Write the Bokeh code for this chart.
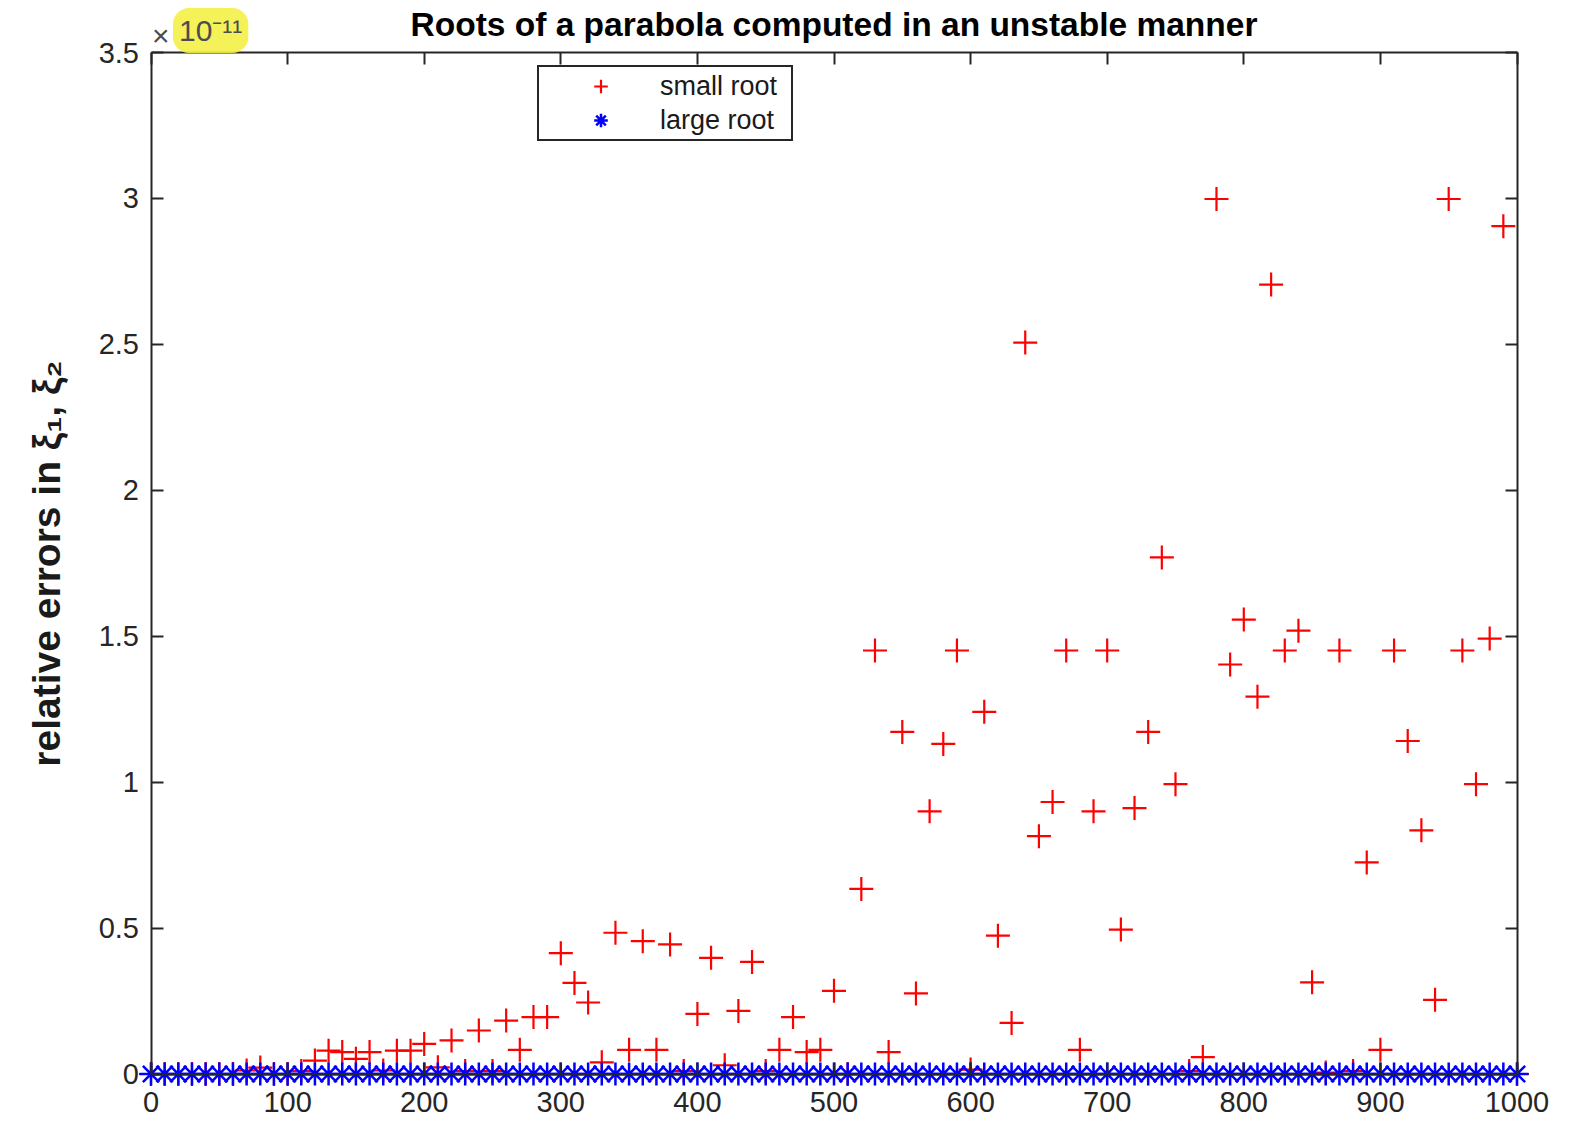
from bokeh.plotting import figure
from bokeh.models import (ColumnDataSource, FixedTicker, LinearAxis, Legend,
                          LegendItem, Label, Range1d)
from bokeh.embed import file_html
from bokeh.resources import INLINE

# ---------------- data (relative errors, in units of 1e-11) ----------------
n_values = list(range(0, 1001, 10))

small_root_err = [
    0.0, 0.0, 0.0, 0.0, 0.0, 0.0, 0.0, 0.012, 0.022, 0.0,          # 0-90
    0.0, 0.01, 0.046, 0.08, 0.075, 0.052, 0.075, 0.012, 0.08, 0.08,  # 100-190
    0.103, 0.023, 0.115, 0.01, 0.149, 0.01, 0.183, 0.083, 0.195, 0.195,  # 200-290
    0.414, 0.312, 0.245, 0.04, 0.484, 0.083, 0.455, 0.083, 0.444, 0.01,  # 300-390
    0.206, 0.398, 0.03, 0.216, 0.384, 0.01, 0.083, 0.195, 0.075, 0.083,  # 400-490
    0.285, 0.0, 0.634, 1.451, 0.075, 1.172, 0.276, 0.90, 1.131, 1.451,  # 500-590
    0.015, 1.241, 0.474, 0.175, 2.506, 0.815, 0.932, 1.451, 0.083, 0.90,  # 600-690
    1.451, 0.495, 0.911, 1.172, 1.770, 0.993, 0.01, 0.058, 2.998, 1.403,  # 700-790
    1.557, 1.293, 2.705, 1.451, 1.519, 0.314, 0.005, 1.451, 0.01, 0.725,  # 800-890
    0.083, 1.451, 1.141, 0.835, 0.254, 2.998, 1.451, 0.993, 1.492, 2.905,  # 900-990
    0.0,                                                              # 1000
]

large_root_err = [
    0.0, 0.0, 0.0, 0.0, 0.0, 0.0, 0.0, 0.0, 0.0, 0.0,
    0.0, 0.0, 0.0, 0.0, 0.0, 0.0, 0.0, 0.0, 0.0, 0.0,
    0.0, 0.0, 0.0, 0.0, 0.0, 0.0, 0.0, 0.0, 0.0, 0.0,
    0.0, 0.0, 0.0, 0.0, 0.0, 0.0, 0.0, 0.0, 0.0, 0.0,
    0.0, 0.0, 0.0, 0.0, 0.0, 0.0, 0.0, 0.0, 0.0, 0.0,
    0.0, 0.0, 0.0, 0.0, 0.0, 0.0, 0.0, 0.0, 0.0, 0.0,
    0.0, 0.0, 0.0, 0.0, 0.0, 0.0, 0.0, 0.0, 0.0, 0.0,
    0.0, 0.0, 0.0, 0.0, 0.0, 0.0, 0.0, 0.0, 0.0, 0.0,
    0.0, 0.0, 0.0, 0.0, 0.0, 0.0, 0.0, 0.0, 0.0, 0.0,
    0.0, 0.0, 0.0, 0.0, 0.0, 0.0, 0.0, 0.0, 0.0, 0.0,
    0.0,
]

x_ticks = [0, 100, 200, 300, 400, 500, 600, 700, 800, 900, 1000]
x_tick_labels = ["0", "100", "200", "300", "400", "500", "600", "700", "800", "900", "1000"]
y_ticks = [0, 0.5, 1, 1.5, 2, 2.5, 3, 3.5]
y_tick_labels = ["0", "0.5", "1", "1.5", "2", "2.5", "3", "3.5"]

title_text = "Roots of a parabola computed in an unstable manner"
y_label_text = "relative errors in ξ₁, ξ₂"
series_names = ["small root", "large root"]
exponent_text = "10⁻¹¹"

X_MIN, X_MAX = 0, 1000
Y_MIN, Y_MAX = 0, 3.5

# ---------------- geometry (the frame fills the whole canvas so that
# markers on the box edge, tick labels and texts are never clipped) ----------
CANVAS_W, CANVAS_H = 1568, 1119
BOX_LEFT, BOX_TOP = 150.5, 52.0      # px position of the axes box
BOX_W, BOX_H = 1366.0, 1021.5
xu = BOX_W / (X_MAX - X_MIN)
yu = BOX_H / (Y_MAX - Y_MIN)
x_start = X_MIN - BOX_LEFT / xu
x_end = x_start + CANVAS_W / xu
y_end = Y_MAX + BOX_TOP / yu
y_start = y_end - CANVAS_H / yu

AX = "#262626"
FONT = "Liberation Sans"

p = figure(frame_width=CANVAS_W, frame_height=CANVAS_H,
           x_range=Range1d(x_start, x_end), y_range=Range1d(y_start, y_end),
           output_backend="svg", toolbar_location=None,
           min_border_left=0, min_border_right=0,
           min_border_top=0, min_border_bottom=0,
           background_fill_color="white", border_fill_color="white")
p.grid.visible = False
p.outline_line_color = None
p.title.visible = False


def style_axis(ax):
    ax.major_tick_in = 12
    ax.major_tick_out = 0
    ax.minor_tick_in = 0
    ax.minor_tick_out = 0
    ax.axis_line_color = AX
    ax.axis_line_width = 2
    ax.major_tick_line_color = AX
    ax.major_tick_line_width = 2
    ax.major_label_text_font = FONT
    ax.major_label_text_color = AX


def hide_labels(ax):
    ax.major_label_text_alpha = 0
    ax.major_label_text_font_size = "1px"
    ax.major_label_standoff = 0


xa = p.xaxis[0]
style_axis(xa)
xa.fixed_location = Y_MIN
xa.bounds = (X_MIN, X_MAX)
xa.ticker = FixedTicker(ticks=x_ticks)
xa.major_label_overrides = dict(zip(x_ticks, x_tick_labels))
xa.major_label_text_font_size = "29px"
xa.major_label_standoff = 18

ya = p.yaxis[0]
style_axis(ya)
ya.fixed_location = X_MIN
ya.bounds = (Y_MIN, Y_MAX)
ya.ticker = FixedTicker(ticks=y_ticks)
ya.major_label_overrides = dict(zip(y_ticks, y_tick_labels))
ya.major_label_text_font_size = "29px"
ya.major_label_standoff = 12
ya.axis_label = y_label_text
ya.axis_label_text_font = FONT
ya.axis_label_text_font_size = "39px"
ya.axis_label_text_font_style = "bold"
ya.axis_label_text_color = "#1a1a1a"
ya.axis_label_standoff = 28

top_axis = LinearAxis(ticker=FixedTicker(ticks=x_ticks), fixed_location=Y_MAX,
                      bounds=(X_MIN, X_MAX))
style_axis(top_axis)
hide_labels(top_axis)
p.add_layout(top_axis, "above")

right_axis = LinearAxis(ticker=FixedTicker(ticks=y_ticks), fixed_location=X_MAX,
                        bounds=(Y_MIN, Y_MAX))
style_axis(right_axis)
hide_labels(right_axis)
p.add_layout(right_axis, "right")

src = ColumnDataSource(data=dict(n=n_values, small=small_root_err, large=large_root_err))

r_small = p.scatter("n", "small", source=src, marker="cross", size=24,
                    line_color="#ff0000", line_width=2.2)
r_large = p.scatter("n", "large", source=src, marker="asterisk", size=23,
                    line_color="#0000ff", line_width=2.5)

legend = Legend(items=[LegendItem(label=series_names[0], renderers=[r_small]),
                       LegendItem(label=series_names[1], renderers=[r_large])],
                location=(537, CANVAS_H - 141))
legend.border_line_color = AX
legend.border_line_width = 2
legend.border_line_alpha = 1
legend.background_fill_color = "white"
legend.background_fill_alpha = 1
legend.padding = 2
legend.margin = 0
legend.spacing = 0
legend.glyph_width = 119
legend.glyph_height = 34
legend.label_height = 34
legend.label_width = 129
legend.label_standoff = 0
legend.label_text_font = FONT
legend.label_text_font_size = "27px"
legend.label_text_color = "#1a1a1a"
p.add_layout(legend)

# title
p.add_layout(Label(x=(X_MIN + X_MAX) / 2, y=Y_MAX + 28 / yu, text=title_text,
                   text_font=FONT, text_font_size="33.5px", text_font_style="bold",
                   text_color="black", text_align="center", text_baseline="middle"))

# scale factor above the y axis
p.add_layout(Label(x=X_MIN + 22 / xu, y=Y_MAX + 22 / yu, text=exponent_text,
                   text_font=FONT, text_font_size="30px",
                   text_color="#4d4d4d", text_align="left", text_baseline="middle",
                   background_fill_color="#f4f047", background_fill_alpha=0.9,
                   padding=6, border_radius=16))
p.add_layout(Label(x=X_MIN + 1 / xu, y=Y_MAX + 17 / yu, text="×",
                   text_font=FONT, text_font_size="30px",
                   text_color="#4d4d4d", text_align="left", text_baseline="middle"))

open("out.html", "w").write(file_html(p, INLINE))
